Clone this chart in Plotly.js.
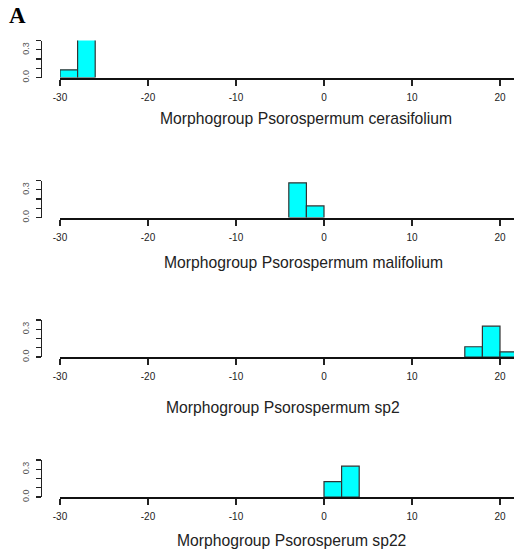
<!DOCTYPE html>
<html>
<head>
<meta charset="utf-8">
<script src="https://cdn.plot.ly/plotly-3.0.1.min.js"></script>
<style>
html,body{margin:0;padding:0;background:#fff;}
#chart{width:514px;height:554px;}
</style>
</head>
<body>
<div id="chart"></div>
<script>
// ---- data ----
var panelTitles = [
  "Morphogroup Psorospermum cerasifolium",
  "Morphogroup Psorospermum malifolium",
  "Morphogroup Psorospermum sp2",
  "Morphogroup Psorosperum sp22"
];
var binCenters1 = [-29, -27];
var density1    = [0.083, 0.417];
var binCenters2 = [-3, -1];
var density2    = [0.375, 0.125];
var binCenters3 = [17, 19, 21];
var density3    = [0.111, 0.333, 0.056];
var binCenters4 = [1, 3];
var density4    = [0.167, 0.333];
var binWidth = 2;
var xTickVals = [-30, -20, -10, 0, 10, 20];
var xTickText = ["-30", "-20", "-10", "0", "10", "20"];
var yTickVals = [0, 0.1, 0.2, 0.3, 0.4];
var yTickText = ["0.0", "", "", "0.3", ""];

var centers = [binCenters1, binCenters2, binCenters3, binCenters4];
var dens = [density1, density2, density3, density4];

// ---- layout geometry (pixels) ----
var W = 514, H = 554;
var baselines = [77.5, 217.5, 357, 497];
var tops = [40.5, 180.5, 320, 460];
var titlePos = [[306, 119], [303, 262], [283, 407], [291, 540]];
var xLeftPx = 60, xPerUnit = 8.8;
var xMax = 20 + (W - 500) / xPerUnit;

function px(x){ return x / W; }
function py(y){ return 1 - y / H; }

var data = [];
var layout = {
  width: W, height: H,
  margin: {l:0, r:0, t:0, b:0},
  paper_bgcolor: "#fff", plot_bgcolor: "rgba(0,0,0,0)",
  showlegend: false,
  annotations: [],
  font: {family: "Liberation Sans, Arial, sans-serif"}
};

for (var i = 0; i < 4; i++) {
  var n = i === 0 ? "" : String(i + 1);
  data.push({
    type: "bar",
    x: centers[i], y: dens[i],
    width: centers[i].map(function(){ return binWidth; }),
    xaxis: "x" + n, yaxis: "y" + n,
    marker: {color: "#00FFFF", line: {color: "#333", width: 1.2}},
    cliponaxis: false,
    hoverinfo: "skip"
  });
  layout["xaxis" + n] = {
    domain: [px(xLeftPx), 1],
    range: [-30, xMax],
    anchor: "y" + n,
    showgrid: false, zeroline: false,
    showline: true, linecolor: "#111", linewidth: 2,
    ticks: "outside", ticklen: 6, tickwidth: 1.3, tickcolor: "#222",
    tickmode: "array", tickvals: xTickVals, ticktext: xTickText,
    tickfont: {size: 10, color: "#222", family: "Liberation Sans, Arial, sans-serif"},
    ticklabelstandoff: 3,
    fixedrange: true
  };
  layout["yaxis" + n] = {
    domain: [py(baselines[i]), py(tops[i])],
    range: [0, 0.4],
    anchor: "free", position: px(41),
    showgrid: false, zeroline: false,
    showline: true, linecolor: "#222", linewidth: 1.2,
    ticks: "outside", ticklen: 5, tickwidth: 1.2, tickcolor: "#222",
    tickmode: "array", tickvals: yTickVals, ticktext: yTickText,
    tickangle: -90,
    tickfont: {size: 9, color: "#555", family: "Liberation Sans, Arial, sans-serif"},
    ticklabelstandoff: 3,
    fixedrange: true
  };
  layout.annotations.push({
    xref: "paper", yref: "paper",
    x: px(titlePos[i][0]), y: py(titlePos[i][1]),
    xanchor: "center", yanchor: "middle",
    text: panelTitles[i], showarrow: false,
    font: {size: 15.7, color: "#222", family: "Liberation Sans, Arial, sans-serif"}
  });
}
layout.annotations.push({
  xref: "paper", yref: "paper",
  x: px(7), y: py(16), xanchor: "left", yanchor: "middle",
  text: "<b>A</b>", showarrow: false,
  font: {size: 23, color: "#000", family: "Liberation Serif, Times New Roman, serif"}
});

Plotly.newPlot("chart", data, layout, {displayModeBar: false, staticPlot: true});
</script>
</body>
</html>
